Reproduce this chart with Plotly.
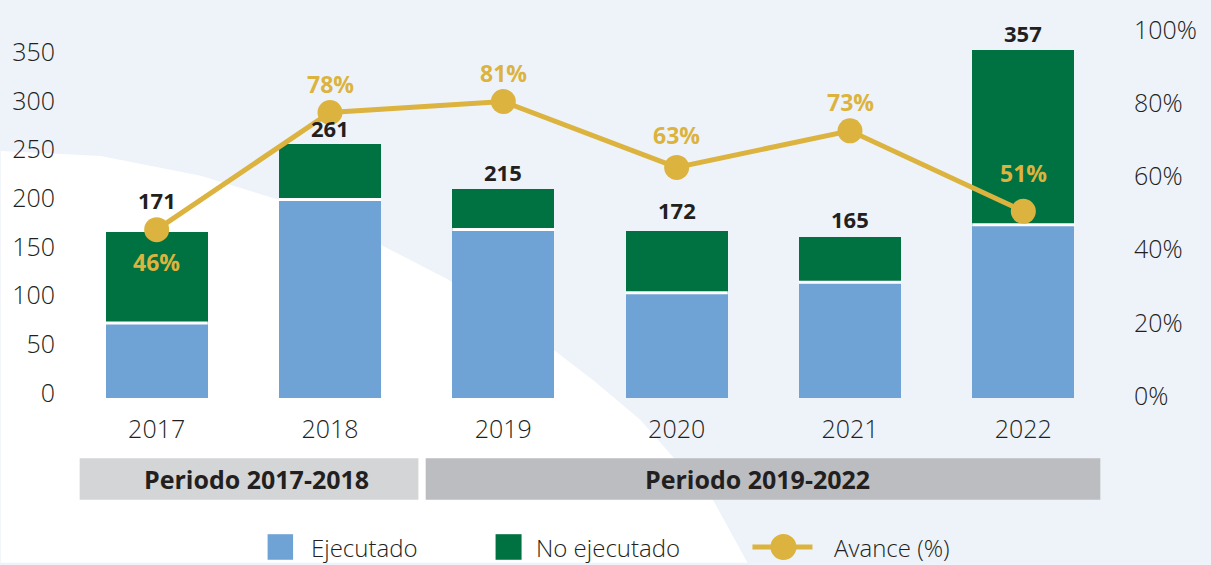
import plotly.graph_objects as go

# datos del grafico
years = ['2017', '2018', '2019', '2020', '2021', '2022']
ejecutado = [77, 204, 173, 108, 119, 178]
no_ejecutado = [94, 57, 42, 64, 46, 179]
total = [171, 261, 215, 172, 165, 357]
avance = [46, 78, 81, 63, 73, 51]
periodos = ['Periodo 2017-2018', 'Periodo 2019-2022']
y_ticks = [0, 50, 100, 150, 200, 250, 300, 350]
y2_ticks = [0, 20, 40, 60, 80, 100]

AZUL = '#6fa3d5'
VERDE = '#007140'
DORADO = '#dbb33e'
TEXTO = '#231f20'
FONDO = '#eef3fa'

# desplazamientos de las etiquetas (px)
shift_total = [32, 16, 17, 21, 18, 17]
shift_avance = [-32, 29, 29, 32, 29, 38]

fig = go.Figure()

fig.add_trace(go.Bar(x=years, y=ejecutado, name='Ejecutado', width=0.59,
                     marker=dict(color=AZUL, line=dict(width=0)), showlegend=False))
fig.add_trace(go.Bar(x=years, y=no_ejecutado, name='No ejecutado', width=0.59,
                     marker=dict(color=VERDE, line=dict(width=0)), showlegend=False))
# linea blanca entre los dos tramos de cada barra
fig.add_trace(go.Scatter(x=years, y=ejecutado, mode='markers', hoverinfo='skip',
                         marker=dict(symbol='line-ew', size=73,
                                     line=dict(color='white', width=3)),
                         showlegend=False))
fig.add_trace(go.Scatter(x=years, y=avance, name='Avance (%)', yaxis='y2',
                         mode='lines+markers', line=dict(color=DORADO, width=5),
                         marker=dict(color=DORADO, size=25), showlegend=False))

annotations = []
for i in range(len(years)):
    annotations.append(dict(x=i, y=total[i], xref='x', yref='y', text='<b>' + str(total[i]) + '</b>',
                            showarrow=False, yanchor='middle', yshift=shift_total[i],
                            font=dict(family='Open Sans', size=22, color=TEXTO)))
    annotations.append(dict(x=i, y=avance[i], xref='x', yref='y2', text='<b>' + str(avance[i]) + '%</b>',
                            showarrow=False, yanchor='middle', yshift=shift_avance[i],
                            font=dict(family='Open Sans', size=23, color=DORADO)))

# fondo: zona blanca curva
curva = [(-0.0666, 0.6727), (0.0295, 0.6593), (0.1256, 0.6056), (0.2025, 0.5386),
         (0.2986, 0.4178), (0.3630, 0.3239), (0.4639, 0.1333), (0.5034, 0.0475),
         (0.5485, -0.0598), (0.5802, -0.1618), (0.6187, -0.2799), (0.6514, -0.4490),
         (-0.0666, -0.4490)]
path = 'M ' + ' L '.join('%f,%f' % p for p in curva) + ' Z'

shapes = [dict(type='path', path=path, xref='paper', yref='paper',
               fillcolor='white', line=dict(width=0), layer='below')]

# cajas de periodo
shapes.append(dict(type='rect', xref='paper', yref='paper', x0=0.0093, x1=0.335,
                   y0=-0.2774, y1=-0.1645, fillcolor='#d4d5d7', line=dict(width=0)))
shapes.append(dict(type='rect', xref='paper', yref='paper', x0=0.342, x1=0.9907,
                   y0=-0.2774, y1=-0.1645, fillcolor='#bcbdc0', line=dict(width=0)))
for txt, xc in zip(periodos, [0.1795, 0.661]):
    annotations.append(dict(x=xc, y=-0.221, xref='paper', yref='paper', text='<b>' + txt + '</b>',
                            showarrow=False, xanchor='center', yanchor='middle',
                            font=dict(family='Open Sans', size=25, color=TEXTO)))

# leyenda manual
ley_y = -0.406
shapes.append(dict(type='rect', xref='paper', yref='paper', x0=0.19, x1=0.2145,
                   y0=-0.4408, y1=-0.3711, fillcolor=AZUL, line=dict(width=0)))
shapes.append(dict(type='rect', xref='paper', yref='paper', x0=0.4092, x1=0.4342,
                   y0=-0.4408, y1=-0.3711, fillcolor=VERDE, line=dict(width=0)))
shapes.append(dict(type='line', xref='paper', yref='paper', x0=0.6562, x1=0.7139,
                   y0=ley_y, y1=ley_y, line=dict(color=DORADO, width=5)))
shapes.append(dict(type='circle', xref='paper', yref='paper', xsizemode='pixel', ysizemode='pixel',
                   xanchor=0.686, yanchor=ley_y, x0=-13, x1=13, y0=-13, y1=13,
                   fillcolor=DORADO, line=dict(width=0)))
for txt, xl in zip(['Ejecutado', 'No ejecutado', 'Avance (%)'], [0.2295, 0.4457, 0.7331]):
    annotations.append(dict(x=xl, y=ley_y, xref='paper', yref='paper', text=txt,
                            showarrow=False, xanchor='left', yanchor='middle',
                            font=dict(family='Open Sans', size=24, color=TEXTO, weight=300)))

eje_font = dict(family='Open Sans', size=25, color=TEXTO, weight=300)

fig.update_layout(
    width=1211, height=565,
    barmode='stack',
    paper_bgcolor=FONDO,
    plot_bgcolor='rgba(0,0,0,0)',
    margin=dict(l=69, r=101, t=25, b=167),
    xaxis=dict(type='category', range=[-0.5, 5.5], showgrid=False, zeroline=False,
               showline=False, tickfont=eje_font, ticklabelstandoff=14),
    yaxis=dict(range=[0, 377], tickvals=y_ticks, showgrid=False, zeroline=False,
               showline=False, tickfont=eje_font, ticklabelstandoff=14,
               ticklabelshift=-5),
    yaxis2=dict(range=[0, 100.27], tickmode='array', tickvals=y2_ticks,
                ticktext=[str(v) + '%' for v in y2_ticks], overlaying='y',
                side='right', showgrid=False, zeroline=False, showline=False,
                tickfont=eje_font, ticklabelstandoff=23, ticklabelshift=-2),
    shapes=shapes,
    annotations=annotations,
)

fig.write_html('out.html', config={'displayModeBar': False},
               post_script="document.body.style.margin='0';")
